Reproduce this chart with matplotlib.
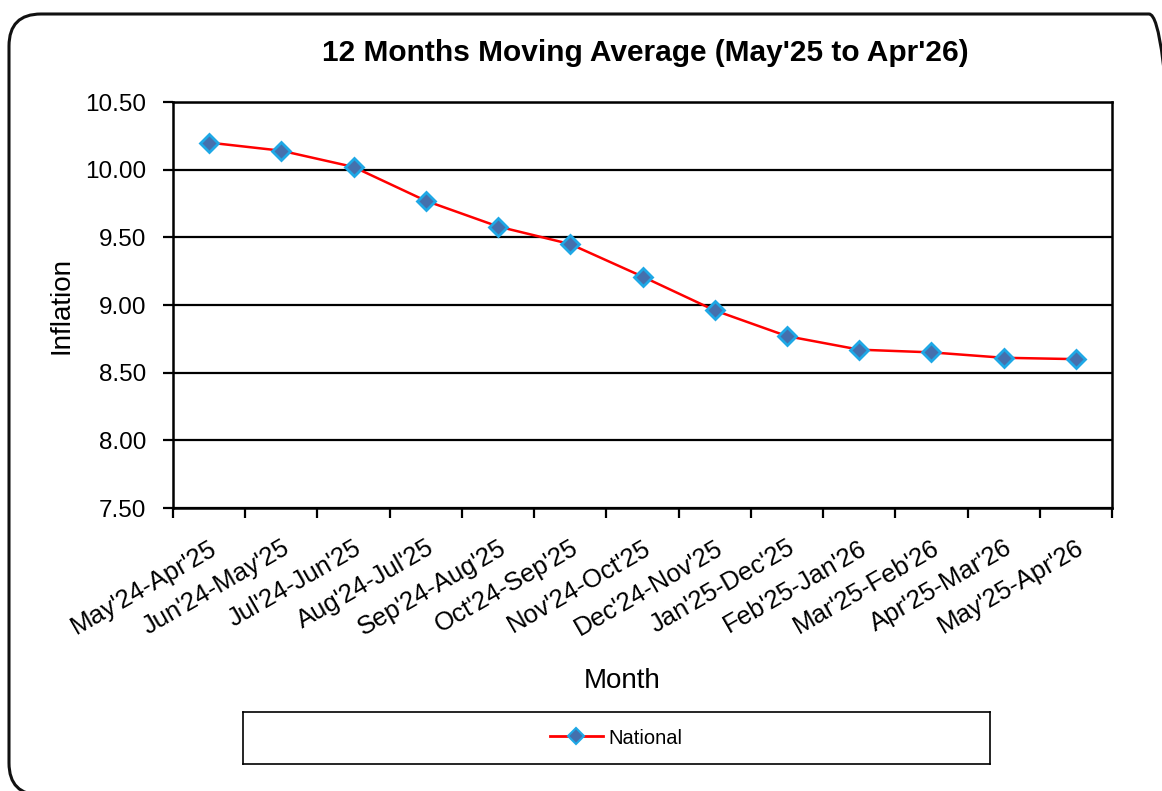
import matplotlib.pyplot as plt
from matplotlib.patches import FancyBboxPatch
from matplotlib.lines import Line2D

plt.rcParams['font.family'] = ['Liberation Sans', 'DejaVu Sans']

months = ["May'24-Apr'25", "Jun'24-May'25", "Jul'24-Jun'25", "Aug'24-Jul'25",
          "Sep'24-Aug'25", "Oct'24-Sep'25", "Nov'24-Oct'25", "Dec'24-Nov'25",
          "Jan'25-Dec'25", "Feb'25-Jan'26", "Mar'25-Feb'26", "Apr'25-Mar'26",
          "May'25-Apr'26"]
national = [10.20, 10.14, 10.02, 9.77, 9.58, 9.45, 9.21, 8.96,
            8.77, 8.67, 8.65, 8.61, 8.60]
y_ticks = [7.50, 8.00, 8.50, 9.00, 9.50, 10.00, 10.50]

fig = plt.figure(figsize=(11.62, 7.91), dpi=100)

# rounded outer frame, partly cut by the image edge
frame = FancyBboxPatch((0.09, -0.04), 11.72, 7.81,
                       boxstyle='round,pad=0,rounding_size=0.32',
                       transform=fig.dpi_scale_trans, fill=False,
                       edgecolor='#111111', linewidth=2.2, clip_on=False)
fig.patches.append(frame)

ax = fig.add_axes([173/1162, 1-508/791, (1112-173)/1162, (508-102)/791])

x = list(range(len(months)))
ax.plot(x, national, color='#ff0000', linewidth=1.8, marker='D',
        markersize=9.5, markerfacecolor='#4470ad', markeredgecolor='#1ea8e6',
        markeredgewidth=2, label='National', zorder=3)

ax.set_xlim(-0.5, len(months) - 0.5)
ax.set_ylim(7.5, 10.5)
ax.set_yticks(y_ticks)
ax.set_yticklabels(['%.2f' % v for v in y_ticks], fontsize=17.5)
ax.yaxis.grid(True, color='black', linewidth=1.6)
ax.set_axisbelow(True)

ax.set_xticks(x)
ax.set_xticklabels(months, rotation=30, ha='right', rotation_mode='anchor',
                   fontsize=18.5)
ax.set_xticks([i - 0.5 for i in range(len(months) + 1)], minor=True)
ax.tick_params(axis='x', which='major', length=0, pad=20)
ax.tick_params(axis='x', which='minor', length=7, width=1.6, direction='out')
ax.tick_params(axis='y', length=7, width=1.6, direction='out', pad=12)

for s in ax.spines.values():
    s.set_linewidth(1.8)
    s.set_color('black')

ax.set_xlabel('Month', fontsize=20)
ax.xaxis.set_label_coords(0.478, -0.395)
ax.set_ylabel('Inflation', fontsize=20, labelpad=8)
fig.text(645/1162, 1-53/791, "12 Months Moving Average (May'25 to Apr'26)",
         ha='center', va='center', fontsize=21.5, fontweight='bold')

# legend box
lax = fig.add_axes([243/1162, 1-764/791, 747/1162, 52/791])
lax.set_xticks([])
lax.set_yticks([])
for s in lax.spines.values():
    s.set_linewidth(1.2)
handle = Line2D([], [], color='#ff0000', linewidth=2, marker='D', markersize=8,
                markerfacecolor='#4470ad', markeredgecolor='#1ea8e6',
                markeredgewidth=1.5)
lax.legend([handle], ['National'], loc='center', frameon=False, fontsize=14.5,
           handlelength=2.6, handletextpad=0.3)

fig.savefig('out.png', dpi=100)
